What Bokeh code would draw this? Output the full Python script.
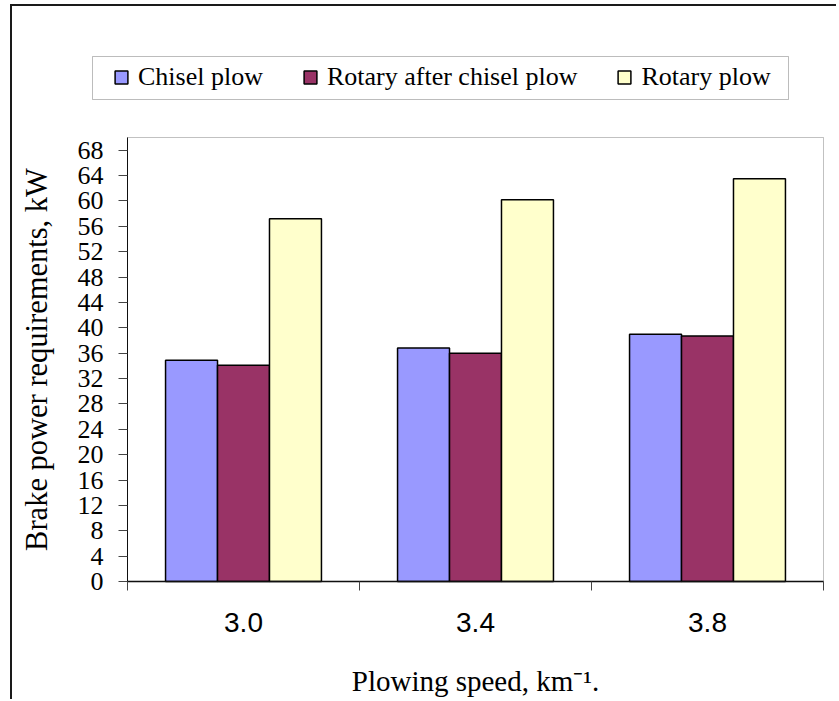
import numpy as np
from bokeh.plotting import figure
from bokeh.models import (ColumnDataSource, FixedTicker, LinearAxis, Legend,
                          LegendItem, Range1d, BoxAnnotation)
from bokeh.transform import dodge
from bokeh.embed import file_html
from bokeh.resources import INLINE

# ---- data ----
speeds = ["3.0", "3.4", "3.8"]
series_names = ["Chisel plow", "Rotary after chisel plow", "Rotary plow"]
chisel = [34.9, 36.8, 39.0]
rotary_after = [34.1, 36.0, 38.7]
rotary = [57.2, 60.2, 63.5]
y_ticks = list(range(0, 69, 4))
y_max = 70

colors = ["#9999FF", "#993366", "#FFFFCC"]
SERIF = "'Liberation Serif'"

# ---- layout (canvas pixels) ----
W, H = 826, 695
area_l, area_r, area_t, area_b = 115, 811, 131, 575
leg_l, leg_r, leg_t, leg_b = 80, 776, 50, 93
n = len(speeds)
ux = (area_r - area_l) / n
uy = (area_b - area_t) / y_max


def dx(px):
    return (px - area_l) / ux


def dy(py):
    return (area_b - py) / uy


pos = np.arange(n) + 0.5
src = ColumnDataSource(dict(pos=pos, chisel=chisel,
                            rotary_after=rotary_after, rotary=rotary))

p = figure(width=W, height=H, output_backend="svg", toolbar_location=None,
           x_range=Range1d(dx(0), dx(W)), y_range=Range1d(dy(H), dy(0)),
           min_border=0,
           styles={"border-left": "2px solid #1a1a1a",
                   "border-top": "2px solid #1a1a1a",
                   "margin-left": "10px", "margin-top": "4px"})
p.background_fill_color = "white"
p.border_fill_color = "white"
p.outline_line_color = None
p.xgrid.visible = False
p.ygrid.visible = False

# plot-area border
p.add_layout(BoxAnnotation(left=0, right=n, bottom=0, top=y_max,
                           fill_alpha=0, line_color="#333333", line_width=1))
# legend frame
p.add_layout(BoxAnnotation(left=dx(leg_l), right=dx(leg_r),
                           bottom=dy(leg_b), top=dy(leg_t),
                           fill_color="white", fill_alpha=1,
                           line_color="#222222", line_width=1))

bar_w = 0.224
offsets = [-bar_w, 0.0, bar_w]
keys = ["chisel", "rotary_after", "rotary"]
renderers = []
for k, off, c in zip(keys, offsets, colors):
    r = p.vbar(x=dodge("pos", off, range=p.x_range), top=k, width=bar_w,
               source=src, fill_color=c, line_color="black", line_width=1.5)
    renderers.append(r)

# y axis
ya = p.yaxis[0]
ya.fixed_location = 0
ya.bounds = (0, y_max)
ya.ticker = FixedTicker(ticks=y_ticks)
ya.axis_label = "Brake power requirements, kW"
ya.axis_label_text_font = "Liberation Serif"
ya.axis_label_text_font_size = "30.5px"
ya.axis_label_text_font_style = "normal"
ya.axis_label_text_color = "black"
ya.axis_label_standoff = 21
ya.major_label_text_font = SERIF
ya.major_label_text_font_size = "26px"
ya.major_label_text_color = "black"
ya.major_label_standoff = 15
ya.major_tick_in = 0
ya.major_tick_out = 9
ya.minor_tick_line_color = None
ya.axis_line_color = "black"
ya.major_tick_line_color = "#444444"

# x axis: ticks at category boundaries
xa = p.xaxis[0]
xa.fixed_location = 0
xa.bounds = (0, n)
xa.ticker = FixedTicker(ticks=list(range(n + 1)))
xa.major_label_overrides = {i: "" for i in range(n + 1)}
xa.major_label_text_font_size = "0px"
xa.major_label_standoff = 0
xa.major_tick_in = 0
xa.major_tick_out = 9
xa.minor_tick_line_color = None
xa.axis_line_color = "black"
xa.axis_line_width = 1.5
xa.major_tick_line_color = "#444444"

# x axis: category labels and title
lab = LinearAxis(ticker=FixedTicker(ticks=list(pos)), fixed_location=0,
                 bounds=(0, n),
                 major_label_overrides={float(v): s for v, s in zip(pos, speeds)})
lab.axis_line_color = None
lab.major_tick_line_color = None
lab.minor_tick_line_color = None
lab.major_tick_in = 0
lab.major_tick_out = 0
lab.major_label_standoff = 31
lab.major_label_text_font = "Liberation Sans"
lab.major_label_text_font_size = "28px"
lab.major_label_text_color = "black"
lab.axis_label = "Plowing speed, km\u207b\u00b9."
lab.axis_label_text_font = "Liberation Serif"
lab.axis_label_text_font_size = "29px"
lab.axis_label_text_font_style = "normal"
lab.axis_label_text_color = "black"
lab.axis_label_standoff = 30
p.add_layout(lab, "below")

legend = Legend(items=[LegendItem(label=nm, renderers=[r])
                       for nm, r in zip(series_names, renderers)],
                orientation="horizontal", location=(94, H - leg_b),
                padding=7, spacing=39, label_standoff=9,
                glyph_width=16, glyph_height=16, label_height=29, margin=0,
                label_text_font=SERIF,
                label_text_font_size="26px", label_text_color="black",
                border_line_color="black", border_line_alpha=0,
                background_fill_alpha=0)
p.add_layout(legend)

open("out.html", "w").write(file_html(p, INLINE))
